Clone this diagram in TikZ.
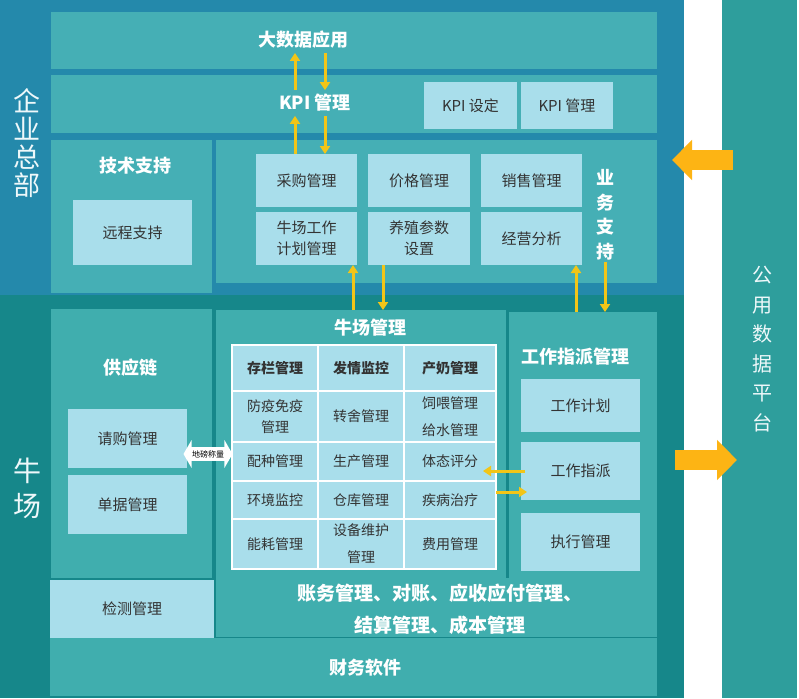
\documentclass[tikz,border=0pt]{standalone}
\usepackage{fontspec}
\setmainfont{Noto Sans CJK SC}
\usetikzlibrary{positioning,arrows.meta,shapes.arrows}
\definecolor{hqBlue}{HTML}{2489AB}
\definecolor{hqTeal}{HTML}{45AFB5}
\definecolor{farmDark}{HTML}{16878A}
\definecolor{farmTeal}{HTML}{40AEAE}
\definecolor{pubTeal}{HTML}{2E9E9C}
\definecolor{cellBlue}{HTML}{A9DEEB}
\definecolor{inkGray}{HTML}{333333}
\definecolor{arrowYellow}{HTML}{F2C518}
\definecolor{bigOrange}{HTML}{FDB414}
\definecolor{labelWhite}{HTML}{EEF8FA}
\begin{document}
\begin{tikzpicture}
                [x=1pt,y=-1pt,
                box/.style={anchor=north west,inner sep=0pt,outer sep=0pt},
                hqpane/.style={box,fill=hqTeal},
                farmpane/.style={box,fill=farmTeal},
                cell/.style={box,fill=cellBlue,text=inkGray,align=center,font=\fontsize{15}{21}\selectfont},
                tcell/.style={box,fill=cellBlue,draw=white,line width=1.6pt,text=inkGray,align=center,font=\fontsize{14}{21}\selectfont},
                ttl/.style={text=white,inner sep=4pt,font=\bfseries\fontsize{18}{22}\selectfont},
                vert/.style={text=labelWhite,align=center,inner sep=2pt},
                arr/.style={draw=arrowYellow,line width=3pt,-{Triangle[length=8pt,width=10pt]}},
                bigarr/.style={draw=bigOrange,line width=20pt,-{Triangle[length=20pt,width=39pt]}}]
                \fill[white] (0,0) rectangle (799,698);
                \useasboundingbox (0,0) rectangle (799,698);
                \node[box,fill=hqBlue,minimum width=684pt,minimum height=295pt] (hq) at (0,0) {};
                \node[box,fill=farmDark,minimum width=684pt,minimum height=403pt] (farm) at (0,295) {};
                \node[box,fill=pubTeal,minimum width=75pt,minimum height=698pt] (pub) at (722,0) {};
                \node[vert,font=\fontsize{27}{28}\selectfont] (hqlabel) at (27,143) {企\\业\\总\\部};
                \node[vert,font=\fontsize{28}{35}\selectfont] (farmlabel) at (27,488) {牛\\场};
                \node[vert,font=\fontsize{20}{29.6}\selectfont] (publabel) at (762,349) {公\\用\\数\\据\\平\\台};
                % enterprise
                \node[hqpane,minimum width=606pt,minimum height=57pt] (bdrow) at (51,12) {};
                \node[ttl] (bigdata) at (303,40) {大数据应用};
                \node[hqpane,minimum width=606pt,minimum height=58pt] (kpirow) at (51,75) {};
                \node[ttl] (kpititle) at (315,103) {KPI 管理};
                \node[cell,minimum width=93pt,minimum height=47pt] (kpiset) at (424,82) {KPI 设定};
                \node[cell,minimum width=92pt,minimum height=47pt] (kpimgr) [right=4pt of kpiset] {KPI 管理};
                \node[hqpane,minimum width=161pt,minimum height=153pt] (tech) at (51,140) {};
                \node[ttl] (techtitle) at (135,166) {技术支持};
                \node[cell,minimum width=119pt,minimum height=65pt] (remote) at (73,200) {远程支持};
                \node[hqpane,minimum width=441pt,minimum height=143pt] (biz) at (216,140) {};
                \node[cell,minimum width=101pt,minimum height=53pt] (purchase) at (256,154) {采购管理};
                \node[cell,minimum width=101pt,minimum height=53pt] (plan) [below=5pt of purchase] {牛场工作\\计划管理};
                \node[cell,minimum width=102pt,minimum height=53pt] (price) at (368,154) {价格管理};
                \node[cell,minimum width=102pt,minimum height=53pt] (breed) [below=5pt of price] {养殖参数\\设置};
                \node[cell,minimum width=101pt,minimum height=53pt] (sales) at (481,154) {销售管理};
                \node[cell,minimum width=101pt,minimum height=53pt] (analysis) [below=5pt of sales] {经营分析};
                \node[vert,text=white,font=\bfseries\fontsize{18}{24.5}\selectfont] (bizsup) at (605,215) {业\\务\\支\\持};
                % farm
                \node[farmpane,minimum width=161pt,minimum height=269pt] (supply) at (51,309) {};
                \node[ttl] (supplytitle) at (130,368) {供应链};
                \node[cell,minimum width=119pt,minimum height=59pt] (request) at (68,409) {请购管理};
                \node[cell,minimum width=119pt,minimum height=59pt] (bills) [below=7pt of request] {单据管理};
                \node[farmpane,minimum width=290pt,minimum height=268pt] (herd) at (216,310) {};
                \node[ttl] (herdtitle) at (370,328) {牛场管理};
                \node[farmpane,minimum width=148pt,minimum height=266pt] (work) at (509,312) {};
                \node[ttl] (worktitle) at (575,357) {工作指派管理};
                \node[cell,minimum width=119pt,minimum height=53pt] (workplan) at (521,379) {工作计划};
                \node[cell,minimum width=119pt,minimum height=58pt] (assign) [below=10pt of workplan] {工作指派};
                \node[cell,minimum width=119pt,minimum height=58pt] (exec) [below=13pt of assign] {执行管理};
                \node[farmpane,minimum width=441pt,minimum height=59pt] (acctpane) at (216,578) {};
                \node[ttl,align=center,font=\bfseries\fontsize{19}{32}\selectfont] (acct) at (440,609) {账务管理、对账、应收应付管理、\\结算管理、成本管理};
                \node[cell,minimum width=164pt,minimum height=58pt] (check) at (50,580) {检测管理};
                \node[farmpane,minimum width=607pt,minimum height=58pt] (soft) at (50,638) {};
                \node[ttl] (softtitle) at (365,668) {财务软件};
                % herd table
                \node[tcell,minimum width=86pt,minimum height=46pt,font=\bfseries\fontsize{14}{21}\selectfont] (stock) at (232,345) {存栏管理};
                \node[tcell,minimum width=86pt,minimum height=46pt,font=\bfseries\fontsize{14}{21}\selectfont] (estrus) at (318,345) {发情监控};
                \node[tcell,minimum width=92pt,minimum height=46pt,font=\bfseries\fontsize{14}{21}\selectfont] (milk) at (404,345) {产奶管理};
                \node[tcell,minimum width=86pt,minimum height=51pt] (epidemic) at (232,391) {防疫免疫\\管理};
                \node[tcell,minimum width=86pt,minimum height=51pt] (transfer) at (318,391) {转舍管理};
                \node[tcell,minimum width=92pt,minimum height=51pt] (feed) at (404,391) {饲喂管理\\[6pt]给水管理};
                \node[tcell,minimum width=86pt,minimum height=39pt] (mating) at (232,442) {配种管理};
                \node[tcell,minimum width=86pt,minimum height=39pt] (produce) at (318,442) {生产管理};
                \node[tcell,minimum width=92pt,minimum height=39pt] (bodyscore) at (404,442) {体态评分};
                \node[tcell,minimum width=86pt,minimum height=38pt] (envir) at (232,481) {环境监控};
                \node[tcell,minimum width=86pt,minimum height=38pt] (store) at (318,481) {仓库管理};
                \node[tcell,minimum width=92pt,minimum height=38pt] (disease) at (404,481) {疾病治疗};
                \node[tcell,minimum width=86pt,minimum height=50pt] (energy) at (232,519) {能耗管理};
                \node[tcell,minimum width=86pt,minimum height=50pt] (equip) at (318,519) {设备维护\\[6pt]管理};
                \node[tcell,minimum width=92pt,minimum height=50pt] (cost) at (404,519) {费用管理};
                \node[double arrow,fill=white,double arrow head extend=7pt,double arrow tip angle=120,
                      minimum height=49pt,inner xsep=0pt,inner ysep=3pt,font=\fontsize{8}{8}\selectfont] (scale) at (208,454) {地磅称量};
                % arrows
                \coordinate (kup) at ([xshift=-20pt]kpititle.north);
                \coordinate (kdn) at ([xshift=10pt]kpititle.north);
                \draw[arr] (kup) -- (kup |- bigdata.south);
                \draw[arr] (kdn |- bigdata.south) -- (kdn);
                \draw[arr] (purchase.north -| kup) -- (kpititle.south -| kup);
                \draw[arr] (kpititle.south -| kdn) -- (purchase.north -| kdn);
                \coordinate (hup) at ([xshift=-4pt]plan.south east);
                \coordinate (hdn) at ([xshift=15pt]breed.south west);
                \draw[arr] (herd.north -| hup) -- (hup);
                \draw[arr] (hdn) -- (herd.north -| hdn);
                \coordinate (wup) at ([xshift=-6pt]analysis.south east);
                \draw[arr] (work.north -| wup) -- (wup);
                \draw[arr] (bizsup.south) -- (work.north -| bizsup.south);
                \coordinate (aw) at ([xshift=4pt]assign.west);
                \coordinate (bs) at ([xshift=-13pt]bodyscore.east);
                \draw[arr] (aw) -- (bs |- aw);
                \coordinate (aw2) at ([xshift=6pt,yshift=-21pt]assign.west);
                \draw[arr] (disease.east |- aw2) -- (aw2);
                \coordinate (pubout) at (733,160);
                \coordinate (hqin) at (672,160);
                \draw[bigarr] (pubout) -- (hqin);
                \coordinate (farmout) at (675,460);
                \coordinate (pubin) at (737,460);
                \draw[bigarr] (farmout) -- (pubin);
\end{tikzpicture}
\end{document}
